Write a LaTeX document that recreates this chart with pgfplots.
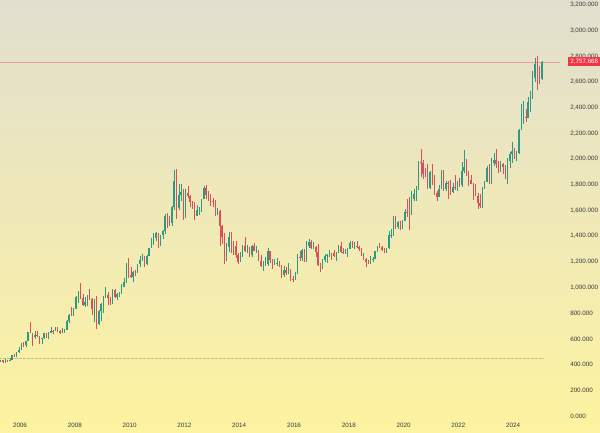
\documentclass[border=0pt]{standalone}
\usepackage{fontspec}
\setmainfont{Liberation Sans}
\usepackage{pgfplots}
\usepackage{pgfplotstable}
\pgfplotsset{compat=1.18}
\definecolor{upc}{HTML}{2E9A84}
\definecolor{dnc}{HTML}{D9505A}
\definecolor{redl}{HTML}{F23645}
\definecolor{bgtop}{HTML}{E2DFCF}
\definecolor{bgbot}{HTML}{FDF3A0}
\definecolor{lblc}{HTML}{3A3A3A}
\pgfplotstableread{
x o h l c
2005.292 427 437 421 435
2005.375 435 436 414 417
2005.458 417 443 414 437
2005.542 437 438 418 429
2005.625 429 448 425 434
2005.708 434 475 432 473
2005.792 473 479 457 470
2005.875 470 498 456 495
2005.958 495 540 489 517
2006.042 517 572 515 569
2006.125 569 574 538 556
2006.208 556 585 534 583
2006.292 583 655 580 654
2006.375 654 730 643 643
2006.458 643 645 543 614
2006.542 614 665 600 633
2006.625 633 663 612 624
2006.708 624 626 561 599
2006.792 599 610 560 604
2006.875 604 650 602 646
2006.958 646 650 605 632
2007.042 632 653 603 650
2007.125 650 690 647 665
2007.208 665 668 637 662
2007.292 662 692 661 679
2007.375 679 692 652 659
2007.458 659 673 640 650
2007.542 650 682 646 665
2007.625 665 675 644 672
2007.708 672 745 671 743
2007.792 743 796 727 789
2007.875 789 845 775 783
2007.958 783 837 782 834
2008.042 834 934 833 923
2008.125 923 975 880 972
2008.208 972 1033 910 916
2008.292 916 950 860 865
2008.375 865 930 849 885
2008.458 885 944 860 930
2008.542 930 988 902 912
2008.625 912 919 786 832
2008.708 832 914 735 871
2008.792 871 934 681 718
2008.875 718 825 705 814
2008.958 814 881 742 869
2009.042 869 935 800 927
2009.125 927 1007 919 942
2009.208 942 963 865 916
2009.292 916 925 865 883
2009.375 883 985 869 979
2009.458 979 990 915 926
2009.542 926 961 905 953
2009.625 953 963 930 955
2009.708 955 1024 950 1008
2009.792 1008 1071 1003 1040
2009.875 1040 1195 1033 1182
2009.958 1182 1227 1076 1096
2010.042 1096 1162 1073 1081
2010.125 1081 1126 1045 1118
2010.208 1118 1139 1087 1113
2010.292 1113 1180 1112 1180
2010.375 1180 1249 1161 1212
2010.458 1212 1265 1204 1244
2010.542 1244 1246 1157 1181
2010.625 1181 1250 1176 1248
2010.708 1248 1308 1242 1307
2010.792 1307 1388 1305 1357
2010.875 1357 1424 1331 1386
2010.958 1386 1432 1363 1421
2011.042 1421 1424 1308 1332
2011.125 1332 1411 1324 1410
2011.208 1410 1448 1380 1439
2011.292 1439 1575 1416 1556
2011.375 1556 1577 1462 1536
2011.458 1536 1556 1478 1500
2011.542 1500 1632 1480 1628
2011.625 1628 1913 1605 1826
2011.708 1826 1921 1535 1620
2011.792 1620 1804 1603 1722
2011.875 1722 1803 1670 1746
2011.958 1746 1764 1523 1566
2012.042 1566 1764 1540 1737
2012.125 1737 1792 1694 1710
2012.208 1710 1718 1627 1669
2012.292 1669 1677 1613 1664
2012.375 1664 1668 1527 1560
2012.458 1560 1641 1555 1604
2012.542 1604 1627 1564 1615
2012.625 1615 1693 1587 1691
2012.708 1691 1790 1687 1772
2012.792 1772 1796 1693 1719
2012.875 1719 1755 1672 1713
2012.958 1713 1725 1635 1675
2013.042 1675 1695 1626 1664
2013.125 1664 1684 1555 1579
2013.208 1579 1616 1562 1596
2013.292 1596 1605 1321 1476
2013.375 1476 1487 1338 1393
2013.458 1393 1424 1180 1234
2013.542 1234 1348 1208 1312
2013.625 1312 1434 1280 1396
2013.708 1396 1433 1272 1327
2013.792 1327 1361 1251 1323
2013.875 1323 1361 1227 1253
2013.958 1253 1267 1181 1202
2014.042 1202 1280 1202 1240
2014.125 1240 1332 1240 1326
2014.208 1326 1392 1277 1284
2014.292 1284 1331 1268 1296
2014.375 1296 1315 1240 1250
2014.458 1250 1332 1240 1327
2014.542 1327 1345 1281 1283
2014.625 1283 1324 1272 1287
2014.708 1287 1289 1206 1210
2014.792 1210 1255 1161 1171
2014.875 1171 1208 1131 1183
2014.958 1183 1239 1170 1184
2015.042 1184 1307 1167 1283
2015.125 1283 1284 1191 1213
2015.208 1213 1219 1142 1183
2015.292 1183 1224 1175 1184
2015.375 1184 1232 1170 1190
2015.458 1190 1205 1162 1172
2015.542 1172 1174 1077 1095
2015.625 1095 1170 1080 1133
2015.708 1133 1157 1098 1115
2015.792 1115 1191 1107 1142
2015.875 1142 1143 1052 1065
2015.958 1065 1088 1046 1061
2016.042 1061 1124 1060 1118
2016.125 1118 1263 1107 1238
2016.208 1238 1284 1207 1233
2016.292 1233 1297 1208 1293
2016.375 1293 1304 1200 1215
2016.458 1215 1362 1200 1322
2016.542 1322 1375 1310 1351
2016.625 1351 1367 1301 1309
2016.708 1309 1352 1302 1316
2016.792 1316 1326 1241 1277
2016.875 1277 1337 1171 1173
2016.958 1173 1190 1122 1152
2017.042 1152 1220 1146 1211
2017.125 1211 1264 1200 1249
2017.208 1249 1262 1195 1250
2017.292 1250 1295 1241 1269
2017.375 1269 1270 1214 1268
2017.458 1268 1296 1236 1242
2017.542 1242 1274 1204 1269
2017.625 1269 1331 1267 1322
2017.708 1322 1357 1271 1280
2017.792 1280 1306 1260 1271
2017.875 1271 1299 1264 1275
2017.958 1275 1309 1236 1303
2018.042 1303 1366 1302 1345
2018.125 1345 1361 1307 1318
2018.208 1318 1356 1303 1325
2018.292 1325 1366 1310 1316
2018.375 1316 1326 1281 1299
2018.458 1299 1309 1245 1253
2018.542 1253 1266 1211 1224
2018.625 1224 1228 1160 1201
2018.708 1201 1214 1180 1192
2018.792 1192 1243 1182 1215
2018.875 1215 1237 1196 1222
2018.958 1222 1284 1221 1282
2019.042 1282 1326 1275 1321
2019.125 1321 1346 1310 1313
2019.208 1313 1324 1281 1292
2019.292 1292 1310 1266 1284
2019.375 1284 1306 1266 1305
2019.458 1305 1439 1301 1409
2019.542 1409 1453 1382 1413
2019.625 1413 1555 1400 1520
2019.708 1520 1557 1459 1472
2019.792 1472 1517 1458 1513
2019.875 1513 1516 1445 1464
2019.958 1464 1524 1454 1517
2020.042 1517 1611 1517 1589
2020.125 1589 1689 1547 1585
2020.208 1585 1704 1451 1577
2020.292 1577 1748 1567 1687
2020.375 1687 1765 1670 1730
2020.458 1730 1789 1671 1781
2020.542 1781 1984 1758 1975
2020.625 1975 2075 1863 1968
2020.708 1968 1992 1849 1886
2020.792 1886 1933 1860 1879
2020.875 1879 1965 1764 1776
2020.958 1776 1906 1765 1898
2021.042 1898 1959 1802 1847
2021.125 1847 1875 1717 1734
2021.208 1734 1755 1677 1708
2021.292 1708 1798 1705 1769
2021.375 1769 1913 1765 1906
2021.458 1906 1916 1750 1770
2021.542 1770 1832 1750 1814
2021.625 1814 1831 1688 1813
2021.708 1813 1834 1721 1743
2021.792 1743 1814 1740 1783
2021.875 1783 1877 1759 1774
2021.958 1774 1831 1753 1829
2022.042 1829 1853 1780 1797
2022.125 1797 1974 1781 1909
2022.208 1909 2070 1890 1937
2022.292 1937 1998 1872 1897
2022.375 1897 1909 1787 1837
2022.458 1837 1879 1805 1807
2022.542 1807 1814 1681 1766
2022.625 1766 1808 1709 1711
2022.708 1711 1735 1615 1660
2022.792 1660 1730 1617 1633
2022.875 1633 1786 1617 1768
2022.958 1768 1833 1765 1824
2023.042 1824 1949 1823 1928
2023.125 1928 1960 1804 1827
2023.208 1827 2009 1810 1969
2023.292 1969 2048 1949 1990
2023.375 1990 2079 1932 1963
2023.458 1963 1984 1893 1919
2023.542 1919 1987 1903 1965
2023.625 1965 1970 1884 1940
2023.708 1940 1953 1846 1849
2023.792 1849 2009 1810 1983
2023.875 1983 2052 1931 2036
2023.958 2036 2135 1973 2063
2024.042 2063 2088 2002 2039
2024.125 2039 2066 1985 2044
2024.208 2044 2236 2039 2230
2024.292 2230 2431 2229 2286
2024.375 2286 2450 2277 2327
2024.458 2327 2387 2286 2320
2024.542 2320 2484 2319 2447
2024.625 2447 2531 2364 2503
2024.708 2503 2685 2471 2635
2024.792 2635 2790 2604 2744
2024.875 2744 2801 2536 2654
2024.958 2654 2726 2583 2625
2025.042 2625 2760 2614 2757.668
}\gold
\begin{document}
\begin{tikzpicture}
\begin{axis}[
  scale only axis,
  width=450pt, height=324.75pt,
  xmin=2005.270, xmax=2027.168,
  ymin=-132.4, ymax=3238.9,
  axis line style={draw=none},
  axis background/.style={top color=bgtop, bottom color=bgbot},
  major tick length=0pt,
  tick style={draw=none},
  xtick={2006,2008,...,2024},
  ytick={0,200,...,3200},
  yticklabel pos=right,
  ticklabel style={font=\fontsize{4.7}{5}\selectfont, text=lblc, inner sep=0pt},
  xticklabel style={anchor=center, yshift=6pt, /pgf/number format/set thousands separator={}},
  yticklabel style={anchor=west, xshift=-22.5pt,
    /pgf/number format/.cd, fixed, fixed zerofill, precision=3, 1000 sep={,}},
  /pgf/number format/assume math mode=true,
  clip=false,
]
% reference lines
\addplot[color=redl!40!bgtop, line width=0.4pt] coordinates {(2005.270,2757.668) (2025.71,2757.668)};
\addplot[color=black!22!bgbot, line width=0.35pt, dash pattern=on 0.5pt off 0.5pt] coordinates {(2005.270,451) (2025.09,451)};
% up candles
\addplot[draw=none, mark=none, restrict expr to domain={\thisrow{c}-\thisrow{o}}{0:100000},
  error bars/.cd, y dir=minus, y explicit, error mark=none,
  error bar style={draw=upc, line width=0.3pt}]
  table[x=x, y=h, y error minus expr=\thisrow{h}-\thisrow{l}] {\gold};
\addplot[draw=none, mark=none, restrict expr to domain={\thisrow{c}-\thisrow{o}}{0:100000},
  error bars/.cd, y dir=minus, y explicit, error mark=none,
  error bar style={draw=upc, line width=0.95pt}]
  table[x=x, y=c, y error minus expr=\thisrow{c}-\thisrow{o}] {\gold};
% down candles
\addplot[draw=none, mark=none, restrict expr to domain={\thisrow{c}-\thisrow{o}}{-100000:-0.0001},
  error bars/.cd, y dir=minus, y explicit, error mark=none,
  error bar style={draw=dnc, line width=0.3pt}]
  table[x=x, y=h, y error minus expr=\thisrow{h}-\thisrow{l}] {\gold};
\addplot[draw=none, mark=none, restrict expr to domain={\thisrow{c}-\thisrow{o}}{-100000:-0.0001},
  error bars/.cd, y dir=minus, y explicit, error mark=none,
  error bar style={draw=dnc, line width=0.95pt}]
  table[x=x, y=o, y error minus expr=\thisrow{o}-\thisrow{c}] {\gold};
% price label
\node[anchor=west, fill=redl, text=white, inner xsep=1.2pt, inner ysep=1.3pt,
  minimum width=24pt, font=\fontsize{4.7}{5}\selectfont]
  at (axis cs:2026.0,2757.668) {2,757.668};
\end{axis}
\pgfresetboundingbox
\useasboundingbox (current axis.south west) rectangle (current axis.north east);
\end{tikzpicture}
\end{document}
